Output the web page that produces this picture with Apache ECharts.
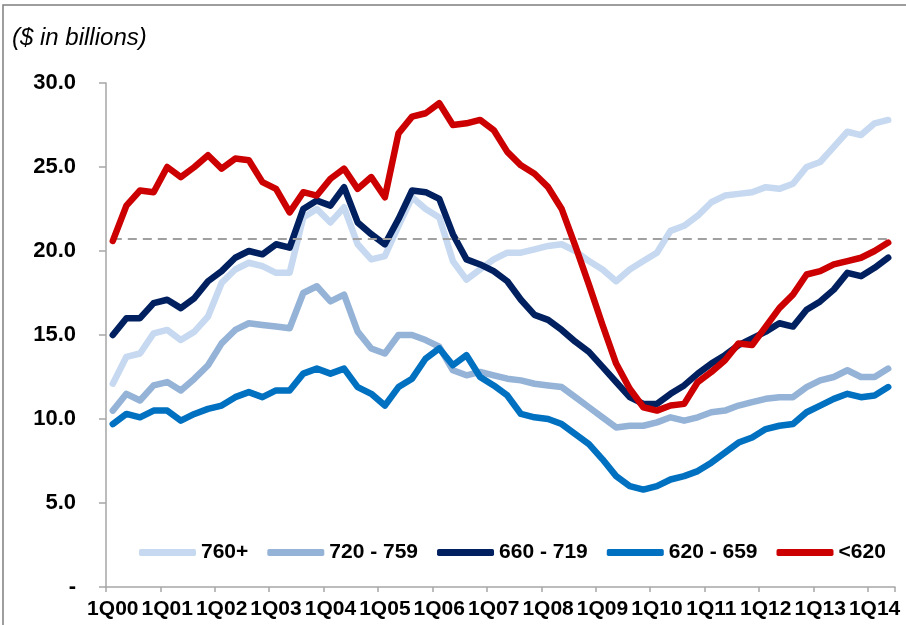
<!DOCTYPE html>
<html lang="en">
<head>
	<meta charset="UTF-8">
	<title>Originations by FICO band</title>
	<script src="https://cdn.jsdelivr.net/npm/echarts@6/dist/echarts.min.js"></script>
	<style>
		html, body { margin: 0; padding: 0; background: #fff; }
		#main { width: 906px; height: 625px; }
	</style>
</head>
<body>
	<div id="main"></div>
	<script type="text/javascript">

	// quarters 1Q00 .. 2Q14
	var quarters = [
		'1Q00','2Q00','3Q00','4Q00','1Q01','2Q01','3Q01','4Q01','1Q02','2Q02','3Q02','4Q02',
		'1Q03','2Q03','3Q03','4Q03','1Q04','2Q04','3Q04','4Q04','1Q05','2Q05','3Q05','4Q05',
		'1Q06','2Q06','3Q06','4Q06','1Q07','2Q07','3Q07','4Q07','1Q08','2Q08','3Q08','4Q08',
		'1Q09','2Q09','3Q09','4Q09','1Q10','2Q10','3Q10','4Q10','1Q11','2Q11','3Q11','4Q11',
		'1Q12','2Q12','3Q12','4Q12','1Q13','2Q13','3Q13','4Q13','1Q14','2Q14'
	];

	var s760 = [12.1, 13.7, 13.9, 15.1, 15.3, 14.7, 15.2, 16.1, 18.1, 18.9,
		19.3, 19.1, 18.7, 18.7, 22.0, 22.5, 21.7, 22.6, 20.4, 19.5,
		19.7, 21.5, 23.2, 22.5, 22.0, 19.4, 18.3, 18.9, 19.5, 19.9,
		19.9, 20.1, 20.3, 20.4, 20.0, 19.4, 18.9, 18.2, 18.9, 19.4,
		19.9, 21.2, 21.5, 22.1, 22.9, 23.3, 23.4, 23.5, 23.8, 23.7,
		24.0, 25.0, 25.3, 26.2, 27.1, 26.9, 27.6, 27.8];

	var s720 = [10.5, 11.5, 11.1, 12.0, 12.2, 11.7, 12.4, 13.2, 14.5, 15.3,
		15.7, 15.6, 15.5, 15.4, 17.5, 17.9, 17.0, 17.4, 15.2, 14.2,
		13.9, 15.0, 15.0, 14.7, 14.3, 12.9, 12.6, 12.8, 12.6, 12.4,
		12.3, 12.1, 12.0, 11.9, 11.3, 10.7, 10.1, 9.5, 9.6, 9.6,
		9.8, 10.1, 9.9, 10.1, 10.4, 10.5, 10.8, 11.0, 11.2, 11.3,
		11.3, 11.9, 12.3, 12.5, 12.9, 12.5, 12.5, 13.0];

	var s660 = [15.0, 16.0, 16.0, 16.9, 17.1, 16.6, 17.2, 18.2, 18.8, 19.6,
		20.0, 19.8, 20.4, 20.2, 22.5, 23.0, 22.7, 23.8, 21.7, 21.0,
		20.4, 21.9, 23.6, 23.5, 23.1, 21.0, 19.5, 19.2, 18.8, 18.2,
		17.1, 16.2, 15.9, 15.3, 14.6, 14.0, 13.1, 12.2, 11.3, 10.9,
		10.9, 11.5, 12.0, 12.7, 13.3, 13.8, 14.4, 14.8, 15.2, 15.7,
		15.5, 16.5, 17.0, 17.7, 18.7, 18.5, 19.0, 19.6];

	var s620 = [9.7, 10.3, 10.1, 10.5, 10.5, 9.9, 10.3, 10.6, 10.8, 11.3,
		11.6, 11.3, 11.7, 11.7, 12.7, 13.0, 12.7, 13.0, 11.9, 11.5,
		10.8, 11.9, 12.4, 13.6, 14.2, 13.2, 13.8, 12.5, 12.0, 11.4,
		10.3, 10.1, 10.0, 9.7, 9.1, 8.5, 7.6, 6.6, 6.0, 5.8,
		6.0, 6.4, 6.6, 6.9, 7.4, 8.0, 8.6, 8.9, 9.4, 9.6,
		9.7, 10.4, 10.8, 11.2, 11.5, 11.3, 11.4, 11.9];

	var sBelow620 = [20.6, 22.7, 23.6, 23.5, 25.0, 24.4, 25.0, 25.7, 24.9, 25.5,
		25.4, 24.1, 23.7, 22.3, 23.5, 23.3, 24.3, 24.9, 23.7, 24.4,
		23.2, 27.0, 28.0, 28.2, 28.8, 27.5, 27.6, 27.8, 27.2, 25.9,
		25.1, 24.6, 23.8, 22.5, 20.3, 18.0, 15.6, 13.3, 11.8, 10.7,
		10.5, 10.8, 10.9, 12.2, 12.8, 13.5, 14.5, 14.4, 15.5, 16.6,
		17.4, 18.6, 18.8, 19.2, 19.4, 19.6, 20.0, 20.5];

	var seriesNames = ['760+', '720 - 759', '660 - 719', '620 - 659', '<620'];
	var seriesColors = ['#C6D9F1', '#95B3D7', '#002060', '#0070C0', '#CC0000'];
	var seriesData = [s760, s720, s660, s620, sBelow620];

	// dashed reference level
	var refLevel = 20.7;
	var yTicks = [0, 5, 10, 15, 20, 25, 30];

	var font = 'Arial, "Liberation Sans", sans-serif';

	var series = [];
	for (var i = 0; i < seriesNames.length; i++) {
		series.push({
			name: seriesNames[i],
			type: 'line',
			data: seriesData[i],
			symbol: 'none',
			z: 2 + i,
			lineStyle: { color: seriesColors[i], width: 6.5, cap: 'round', join: 'round' },
			itemStyle: { color: seriesColors[i] }
		});
	}
	// reference line on the first series
	series[0].markLine = {
		silent: true,
		symbol: 'none',
		label: { show: false },
		lineStyle: { color: '#A0A0A0', type: [9, 6], width: 2 },
		data: [[{ coord: [0, refLevel] }, { coord: [quarters.length - 1, refLevel] }]]
	};

	var myChart = echarts.init(document.getElementById('main'));

	var option = {
		animation: false,
		backgroundColor: '#fff',
		graphic: [{
			type: 'rect',
			shape: { x: 3, y: 5, width: 920, height: 640 },
			style: { fill: 'none', stroke: '#7f7f7f', lineWidth: 1.5 },
			silent: true
		}, {
			type: 'text',
			left: 12,
			top: 26,
			style: {
				text: '($ in billions)',
				font: 'italic 24px ' + font,
				fill: '#000'
			}
		}],
		legend: {
			left: 134,
			top: 537,
			itemWidth: 57,
			itemHeight: 7,
			itemGap: 19,
			icon: 'roundRect',
			data: seriesNames,
			textStyle: { fontFamily: font, fontSize: 21, fontWeight: 'bold', color: '#000' }
		},
		grid: {
			left: 106,
			right: 11,
			top: 83,
			bottom: 38,
			outerBoundsMode: 'none'
		},
		xAxis: {
			type: 'category',
			data: quarters,
			boundaryGap: true,
			axisLine: { lineStyle: { color: '#A6A6A6', width: 1.5 } },
			axisTick: { show: true, interval: 3, length: 5, lineStyle: { color: '#A6A6A6', width: 1.5 } },
			axisLabel: {
				interval: 3,
				hideOverlap: false,
				margin: 12,
				fontFamily: font,
				fontSize: 21,
				fontWeight: 'bold',
				color: '#000'
			},
			splitLine: { show: false }
		},
		yAxis: {
			type: 'value',
			min: yTicks[0],
			max: yTicks[yTicks.length - 1],
			interval: 5,
			axisLine: { show: true, lineStyle: { color: '#A6A6A6', width: 1.5 } },
			axisTick: { show: true, length: 7, lineStyle: { color: '#A6A6A6', width: 1.5 } },
			axisLabel: {
				margin: 30,
				fontFamily: font,
				fontSize: 22,
				fontWeight: 'bold',
				color: '#000',
				formatter: function (v) { return v === 0 ? '-' : v.toFixed(1); }
			},
			splitLine: { show: false }
		},
		series: series
	};

	myChart.setOption(option, true);
	</script>
</body>
</html>
